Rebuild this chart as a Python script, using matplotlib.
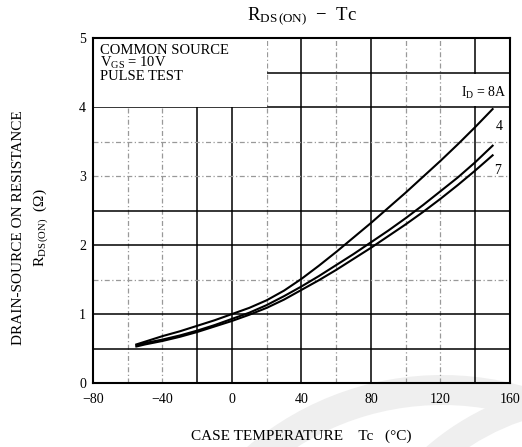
import matplotlib
matplotlib.use("Agg")
import matplotlib.pyplot as plt
from matplotlib.patches import Rectangle, Wedge

plt.rcParams['font.family'] = ['Liberation Serif', 'DejaVu Serif']
plt.rcParams['mathtext.fontset'] = 'custom'
plt.rcParams['mathtext.rm'] = 'Liberation Serif'
plt.rcParams['mathtext.it'] = 'Liberation Serif'

# Case temperature (°C) and on-resistance (ohm), ID = 8 A family
temp = [-55, -50, -40, -30, -20, -10, 0, 10, 20, 30, 40, 50, 60, 70, 80, 90, 100, 110, 120, 130, 140, 150]
rds_top = [0.56, 0.60, 0.68, 0.75, 0.83, 0.91, 1.00, 1.09, 1.20, 1.34, 1.51, 1.70, 1.90, 2.11, 2.32,
           2.54, 2.76, 2.99, 3.22, 3.46, 3.71, 3.97]
rds_mid = [0.55, 0.58, 0.63, 0.69, 0.76, 0.84, 0.93, 1.02, 1.13, 1.26, 1.40, 1.55, 1.71, 1.87, 2.04,
           2.21, 2.39, 2.58, 2.78, 2.98, 3.20, 3.44]
rds_low = [0.53, 0.56, 0.61, 0.67, 0.74, 0.82, 0.90, 0.99, 1.09, 1.21, 1.35, 1.49, 1.64, 1.80, 1.96,
           2.13, 2.30, 2.48, 2.67, 2.87, 3.08, 3.30]

x_ticks = [-80, -40, 0, 40, 80, 120, 160]
x_tick_labels = ["\u221280", "\u221240", "0", "40", "80", "120", "160"]
y_ticks = [0, 1, 2, 3, 4, 5]
curve_labels = ["4", "7"]

fig = plt.figure(figsize=(5.22, 4.47), dpi=100)

# faint crescent marks in the lower right background
px = 1 / 100.0
for cx, cy, r, w, t1, t2 in [(442, -228, 300, 30, 62, 150), (600, -200, 265, 26, 70, 140)]:
    fig.patches.append(Wedge((cx * px, cy * px), r * px, t1, t2, width=w * px,
                             transform=fig.dpi_scale_trans, facecolor='#efefef',
                             edgecolor='none', zorder=-5))

ax = fig.add_axes([0.178, 0.143, 0.799, 0.772])
ax.set_zorder(1)
ax.set_facecolor('none')
ax.set_xlim(-80, 160)
ax.set_ylim(0, 5)

# grid: heavy ruled lines and faint dotted lines
solid_x = [-20, 0, 40, 80, 140]
faint_x = [-60, -40, 20, 60, 100, 120]
solid_y = [0.5, 1, 2, 2.5, 4]
faint_y = [1.5, 3, 3.5]
for xv in solid_x:
    ax.axvline(xv, color='black', lw=1.1, zorder=1)
for xv in faint_x:
    ax.axvline(xv, color='#999999', lw=0.9, ls=(0, (4, 2, 1, 2)), zorder=1)
for yv in solid_y:
    ax.axhline(yv, color='black', lw=1.1, zorder=1)
for yv in faint_y:
    ax.axhline(yv, color='#999999', lw=0.9, ls=(0, (4, 2, 1, 2)), zorder=1)
ax.plot([20, 160], [4.5, 4.5], color='black', lw=1.1, zorder=1)

# blank area for the test-condition note
ax.add_patch(Rectangle((-80, 4), 100, 1, facecolor='white', edgecolor='none', zorder=2))
ax.text(-76, 4.92, "COMMON SOURCE\n$\\mathrm{V_{GS}}$ = 10V\nPULSE TEST", va='top', ha='left',
        fontsize=10.5, linespacing=0.9, zorder=3)
ax.add_patch(Rectangle((121, 4.02), 38, 0.46, facecolor='white', edgecolor='none', zorder=2))
ax.text(158, 4.2, "$\\mathrm{I_D}$ = 8A", ha='right', va='center', fontsize=10, zorder=3)

for r in (rds_top, rds_mid, rds_low):
    ax.plot(temp, r, color='black', lw=1.5, zorder=4)

ax.text(152, 3.72, curve_labels[0], fontsize=10, ha='left', va='center', zorder=5)
ax.text(151, 3.08, curve_labels[1], fontsize=10, ha='left', va='center', zorder=5)

ax.set_xticks(x_ticks)
ax.set_xticklabels(x_tick_labels)
ax.set_yticks(y_ticks)
ax.tick_params(axis='x', length=0, labelsize=10, pad=7)
ax.tick_params(axis='y', length=0, labelsize=10, pad=5)
for s in ax.spines.values():
    s.set_linewidth(1.5)

ax.set_title("$\\mathrm{R_{DS\\,(ON)}}$  \u2212  Tc", fontsize=13.5, pad=13)
ax.set_xlabel("CASE TEMPERATURE    Tc   (\u00b0C)", fontsize=11, labelpad=17)
fig.text(0.036, 0.49, "DRAIN-SOURCE ON RESISTANCE", rotation=90, ha='center', va='center', fontsize=11)
fig.text(0.078, 0.49, "$\\mathrm{R_{DS\\,(ON)}}$  (\u03a9)", rotation=90, ha='center', va='center', fontsize=11)

fig.savefig("out.png", dpi=100, facecolor='white')
